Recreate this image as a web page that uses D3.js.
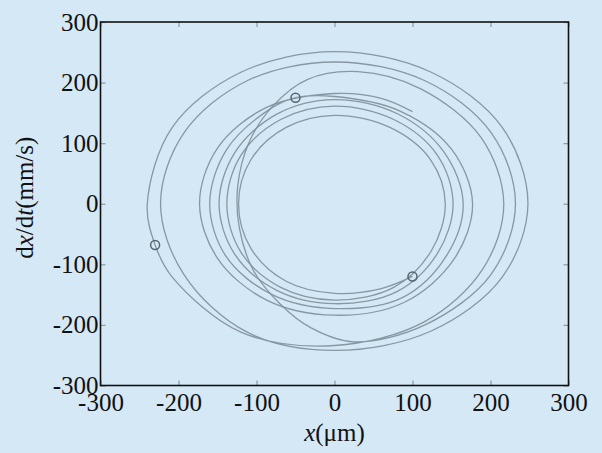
<!DOCTYPE html>
<html><head><meta charset="utf-8">
<script src="https://cdn.jsdelivr.net/npm/d3@7"></script>
<style>
html,body{margin:0;padding:0;background:#d4e8f6;}
svg{display:block;}
text{font-family:"Liberation Serif","Times New Roman",serif;fill:#111;}
</style></head><body>
<svg id="c" width="602" height="453"></svg>
<script>
// ---- data ----
const xTicks = [-300, -200, -100, 0, 100, 200, 300];
const yTicks = [-300, -200, -100, 0, 100, 200, 300];
const xLabel = "x";

// outer closed orbit (three turns, passes the left marker)
const orbitOuter = [
  [-230,-68],[-240,0],[-208,126],[-120,217],[0,251],[124,217],[215,126],[248,0],
  [215,-121],[124,-210],[0,-242],[-112,-212],[-193,-117],
  [-223,0],[-193,117],[-112,203],[0,234],[116,203],[201,117],[232,0],
  [201,-116],[116,-200],[25,-228],
  [-30,-205],[-70,-165],[-104,-110],[-122,-40],[-124,30],[-110,100],[-80,160],[-35,205],[30,218],
  [110,190],[188,109],[217,0],[190,-108],[115,-195],[0,-234],[-120,-212],[-208,-121]
];
// inner trajectory from the lower-right marker, spiralling outward (passes the upper marker)
const trajInner = [
  [100,-120],[60,-140],[0,-148],[-62,-128],[-107,-74],[-123,0],[-107,73],[-62,126],[0,146],
  [71,126],[123,73],[142,0],[124,-78],
  [76,-138],[0,-159],[-69,-138],[-120,-80],[-138,0],[-120,80],[-69,139],[0,161],
  [76,139],[132,80],[152,0],[132,-82],
  [80,-145],[0,-165],[-74,-143],[-128,-83],[-148,0],[-128,84],[-74,148],[0,172],
  [80,149],[140,86],[165,0],[143,-87],
  [87,-155],[0,-173],[-80,-150],[-139,-87],[-160,0],[-139,88],[-90,150],[-50,175],[0,177],
  [84,153],[150,90],[177,0],[153,-92],[89,-163],[0,-184],[-87,-159],[-150,-90],[-173,0],
  [-150,92],[-87,159],[0,182],[60,174],[100,152]
];
const markers = [[-230,-68],[-50,175],[100,-120]];

// ---- drawing ----
const svg = d3.select("#c");
const L = 100.5, R = 568.5, T = 22, B = 385.5;
const x = d3.scaleLinear().domain([-300,300]).range([L,R]);
const y = d3.scaleLinear().domain([-300,300]).range([B,T]);

svg.append("rect").attr("x",0).attr("y",0).attr("width",602).attr("height",453).attr("fill","#d4e8f6");

const g = svg.append("g");
const lineOpen = d3.line().x(d=>x(d[0])).y(d=>y(d[1])).curve(d3.curveCatmullRom.alpha(0.5));
const lineClosed = d3.line().x(d=>x(d[0])).y(d=>y(d[1])).curve(d3.curveCatmullRomClosed.alpha(0.5));
g.append("path").attr("d", lineClosed(orbitOuter)).attr("fill","none")
  .attr("stroke","#7f8f99").attr("stroke-width",1.3).attr("stroke-opacity",0.9);
g.append("path").attr("d", lineOpen(trajInner)).attr("fill","none")
  .attr("stroke","#7f8f99").attr("stroke-width",1.3).attr("stroke-opacity",0.9);
g.selectAll("circle").data(markers).join("circle")
  .attr("cx",d=>x(d[0])).attr("cy",d=>y(d[1])).attr("r",4.5)
  .attr("fill","none").attr("stroke","#56656e").attr("stroke-width",1.5);

function styleAxis(sel){
  sel.select(".domain").remove();
  sel.selectAll(".tick line").attr("stroke","#8a9aa2").attr("stroke-width",1.2);
  sel.selectAll("text").style("font-size","25px").attr("fill","#111");
}
const fmt = d => String(d);
const ax = svg.append("g").attr("transform",`translate(0,${B})`)
  .call(d3.axisBottom(x).tickValues(xTicks).tickSizeInner(-5).tickSizeOuter(0).tickPadding(6).tickFormat(fmt));
styleAxis(ax);
ax.selectAll("text").attr("dy","0.75em").attr("y",7);
const ay = svg.append("g").attr("transform",`translate(${L},0)`)
  .call(d3.axisLeft(y).tickValues(yTicks).tickSizeInner(-5).tickSizeOuter(0).tickPadding(2).tickFormat(fmt));
styleAxis(ay);
const at = svg.append("g").attr("transform",`translate(0,${T})`)
  .call(d3.axisTop(x).tickValues(xTicks).tickSizeInner(-5).tickSizeOuter(0).tickFormat(""));
styleAxis(at);
const ar = svg.append("g").attr("transform",`translate(${R},0)`)
  .call(d3.axisRight(y).tickValues(yTicks).tickSizeInner(-5).tickSizeOuter(0).tickFormat(""));
styleAxis(ar);

svg.append("rect").attr("x",L).attr("y",T).attr("width",R-L).attr("height",B-T)
  .attr("fill","none").attr("stroke","#111").attr("stroke-width",1.6);

// axis titles
const xt = svg.append("text").attr("x",(L+R)/2).attr("y",441).attr("text-anchor","middle").style("font-size","25px");
xt.append("tspan").attr("font-style","italic").text(xLabel);
xt.append("tspan").text("(μm)");

const yt = svg.append("text").attr("transform",`translate(33,${(T+B)/2 - 6}) rotate(-90)`)
  .attr("text-anchor","middle").style("font-size","25px");
yt.append("tspan").text("d");
yt.append("tspan").attr("font-style","italic").text("x");
yt.append("tspan").text("/d");
yt.append("tspan").attr("font-style","italic").text("t");
yt.append("tspan").text("(mm/s)");
</script>
</body></html>
